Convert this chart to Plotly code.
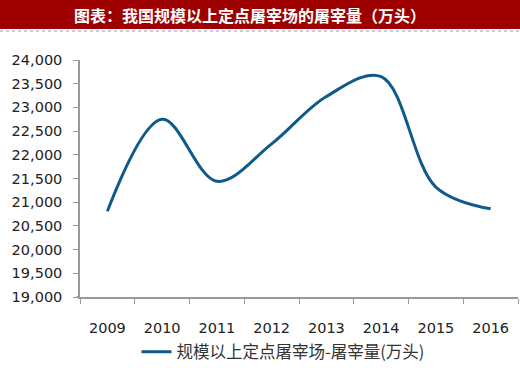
import plotly.graph_objects as go

years = ["2009", "2010", "2011", "2012", "2013", "2014", "2015", "2016"]
slaughter = [20810, 22750, 21440, 22230, 23230, 23650, 21320, 20860]
series_name = "规模以上定点屠宰场-屠宰量(万头)"
title_text = "图表：我国规模以上定点屠宰场的屠宰量（万头）"
y_ticks = [19000, 19500, 20000, 20500, 21000, 21500, 22000, 22500, 23000, 23500, 24000]

W, H = 520, 368
L, R, T, B = 80, 2, 60, 71
pw, ph = W - L - R, H - T - B

def px(xp):
    return (xp - L) / pw

def py(yp):
    return (H - B - yp) / ph

fig = go.Figure()
fig.add_trace(go.Scatter(
    x=years, y=slaughter, mode="lines", name=series_name,
    line=dict(color="#0E5A8A", width=3, shape="spline", smoothing=1.0),
    showlegend=True,
))

tick_font = dict(family="DejaVu Sans", size=14.5, color="#222")

fig.update_layout(
    width=W, height=H,
    margin=dict(l=L, r=R, t=T, b=B, autoexpand=False),
    paper_bgcolor="white", plot_bgcolor="white",
    font=dict(family="DejaVu Sans, sans-serif", size=13, color="#222"),
    showlegend=True,
    legend=dict(orientation="h", x=px(283), xanchor="center", y=py(352), yanchor="middle",
                font=dict(family="Noto Sans CJK SC", size=16.5, color="#333"),
                bgcolor="rgba(0,0,0,0)"),
    xaxis=dict(type="category", range=[-0.5, 7.5], tickson="boundaries",
               ticks="outside", ticklen=5, tickcolor="#999", showline=True,
               linecolor="#999", linewidth=1.5, showgrid=False, zeroline=False,
               automargin=False, ticklabelstandoff=17, tickfont=tick_font),
    yaxis=dict(range=[19000, 24000], tickvals=y_ticks, tickformat=",",
               ticks="outside", ticklen=5, tickcolor="#999", showline=True,
               linecolor="#999", linewidth=1.5, showgrid=False, zeroline=False,
               automargin=False, ticklabelstandoff=8, tickfont=tick_font),
    shapes=[
        dict(type="rect", xref="paper", yref="paper", x0=px(0), x1=px(W), y0=py(29), y1=py(0),
             fillcolor="#9E0000", line=dict(width=0), layer="below"),
        dict(type="line", xref="paper", yref="paper", x0=px(0), x1=px(W), y0=py(31), y1=py(31),
             line=dict(color="#8A9BC0", width=1, dash="dot")),
        dict(type="line", xref="paper", yref="paper", x0=px(76), x1=px(80), y0=0, y1=0,
             line=dict(color="#999", width=1.5)),
    ],
    annotations=[
        dict(text="<b>" + title_text + "</b>", xref="paper", yref="paper",
             x=px(250), y=py(15), xanchor="center", yanchor="middle", showarrow=False,
             font=dict(family="Noto Sans CJK SC", size=16, color="white")),
    ],
)

fig.write_html("out.html", config={"displayModeBar": False},
               post_script="document.body.style.margin='0';")
